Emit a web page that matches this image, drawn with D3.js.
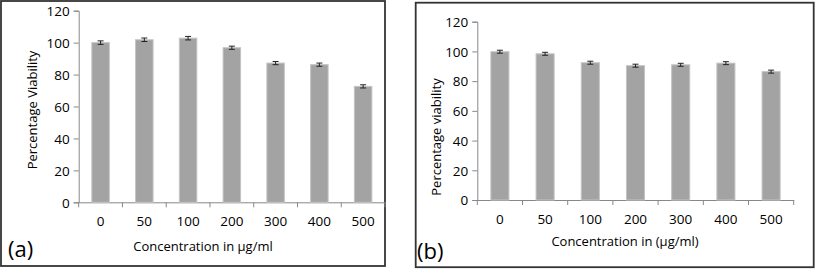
<!DOCTYPE html>
<html><head><meta charset="utf-8">
<script src="https://cdn.jsdelivr.net/npm/d3@7"></script>
<style>body{margin:0;background:#fff}svg{display:block}text{font-family:Carlito,"Open Sans","Liberation Sans",sans-serif;fill:#000}</style>
</head><body><svg id="c" width="817" height="270"></svg>
<script>
const categories = ["0","50","100","200","300","400","500"];
const valuesA = [100, 101.8, 102.8, 96.8, 87.2, 86.2, 72.6];
const errorsA = [1.1, 1.1, 1.1, 1.0, 1.0, 1.0, 1.0];
const valuesB = [99.8, 98.4, 92.4, 90.4, 91.0, 92.1, 86.4];
const errorsB = [1.0, 1.0, 1.0, 1.0, 1.0, 1.0, 1.0];
const yTicks = [0,20,40,60,80,100,120];

const svg = d3.select("#c");

function panel(o){
  const g = svg.append("g");
  g.append("rect").attr("x",o.frame[0]).attr("y",o.frame[1]).attr("width",o.frame[2]).attr("height",o.frame[3])
    .attr("fill","none").attr("stroke","#333").attr("stroke-width",1.8);
  const x = d3.scaleBand().domain(categories).range([o.x0,o.x1]).paddingInner(0.6).paddingOuter(0.3);
  const xt = d3.scaleBand().domain(categories).range([o.x0,o.x1]);
  const y = d3.scaleLinear().domain([0,120]).range([o.y0,o.y1]);
  // axes
  const ya = g.append("g").attr("transform",`translate(${o.x0},0)`)
    .call(d3.axisLeft(y).tickValues(yTicks).tickSize(5).tickPadding(4));
  ya.select(".domain").attr("stroke","#888");
  ya.selectAll(".tick line").attr("stroke","#888");
  ya.selectAll("text").attr("font-size",13.5).style("font-family",'"Open Sans",sans-serif').attr("dy","0.35em");
  const xa = g.append("g").attr("transform",`translate(0,${o.y0})`)
    .call(d3.axisBottom(xt).tickSize(0).tickPadding(14));
  xa.select(".domain").attr("stroke","#888");
  xa.selectAll("text").attr("font-size",13.5).style("font-family",'"Open Sans",sans-serif');
  // tick marks at category boundaries
  const bounds = categories.map(c=>xt(c)).concat([o.x1]);
  g.selectAll(".bt").data(bounds).join("line").attr("x1",d=>d).attr("x2",d=>d)
    .attr("y1",o.y0).attr("y2",o.y0+5).attr("stroke","#888");
  // bars
  g.selectAll(".bar").data(categories).join("rect")
    .attr("x",c=>x(c)).attr("width",x.bandwidth())
    .attr("y",(c,i)=>y(o.values[i])).attr("height",(c,i)=>o.y0-y(o.values[i]))
    .attr("fill","#a3a3a3").attr("stroke","#c4c4c4").attr("stroke-width",1);
  // error bars
  const eb = g.selectAll(".eb").data(categories).join("g");
  eb.append("line").attr("x1",c=>x(c)+x.bandwidth()/2).attr("x2",c=>x(c)+x.bandwidth()/2)
    .attr("y1",(c,i)=>y(o.values[i]+o.errors[i])).attr("y2",(c,i)=>y(o.values[i]-o.errors[i]))
    .attr("stroke","#222").attr("stroke-width",1);
  [1,-1].forEach(s=>{
    eb.append("line").attr("x1",c=>x(c)+x.bandwidth()/2-3).attr("x2",c=>x(c)+x.bandwidth()/2+3)
      .attr("y1",(c,i)=>y(o.values[i]+s*o.errors[i])).attr("y2",(c,i)=>y(o.values[i]+s*o.errors[i]))
      .attr("stroke","#222").attr("stroke-width",1);
  });
  g.append("text").attr("x",o.xt[0]).attr("y",o.xt[1]).attr("text-anchor","middle")
    .attr("font-size",13).style("font-family",'"Open Sans",sans-serif').text(o.xlabel);
  g.append("text").attr("transform",`translate(${o.yt[0]},${o.yt[1]}) rotate(-90)`).attr("text-anchor","middle")
    .attr("font-size",13).style("font-family",'"Open Sans",sans-serif').text(o.ylabel);
  g.append("text").attr("x",o.tag[0]).attr("y",o.tag[1]).attr("font-size",22)
    .style("font-family",'"Open Sans",sans-serif').text(o.tagText);
}

panel({frame:[1,1,384,265], x0:78.7, x1:385, y0:202.3, y1:10.7, values:valuesA, errors:errorsA,
  xt:[203,251], yt:[37,110], xlabel:"Concentration in µg/ml", ylabel:"Percentage Viability", tag:[8,257], tagText:"(a)"});
panel({frame:[415.7,2.7,398,264.5], x0:477.3, x1:793.7, y0:200, y1:21.7, values:valuesB, errors:errorsB,
  xt:[625,246], yt:[441,137], xlabel:"Concentration in (µg/ml)", ylabel:"Percentage viability", tag:[417,259], tagText:"(b)"});
</script></body></html>
